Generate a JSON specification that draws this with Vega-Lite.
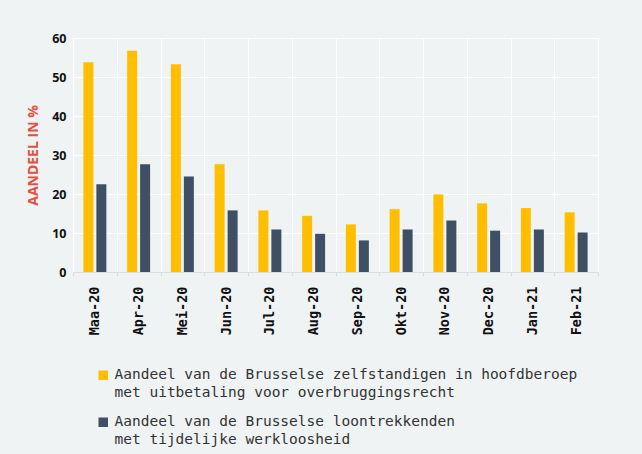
{
  "$schema": "https://vega.github.io/schema/vega-lite/v6.json",
  "width": 525,
  "height": 234,
  "autosize": {"type": "none"},
  "padding": {"left": 73, "top": 38, "right": 44, "bottom": 182},
  "background": "#eff3f4",
  "data": {
    "values": [
      {"maand": "Maa-20", "serie": "Aandeel van de Brusselse zelfstandigen in hoofdberoep\nmet uitbetaling voor overbruggingsrecht", "waarde": 53.8},
      {"maand": "Maa-20", "serie": "Aandeel van de Brusselse loontrekkenden\nmet tijdelijke werkloosheid", "waarde": 22.5},
      {"maand": "Apr-20", "serie": "Aandeel van de Brusselse zelfstandigen in hoofdberoep\nmet uitbetaling voor overbruggingsrecht", "waarde": 56.7},
      {"maand": "Apr-20", "serie": "Aandeel van de Brusselse loontrekkenden\nmet tijdelijke werkloosheid", "waarde": 27.6},
      {"maand": "Mei-20", "serie": "Aandeel van de Brusselse zelfstandigen in hoofdberoep\nmet uitbetaling voor overbruggingsrecht", "waarde": 53.3},
      {"maand": "Mei-20", "serie": "Aandeel van de Brusselse loontrekkenden\nmet tijdelijke werkloosheid", "waarde": 24.5},
      {"maand": "Jun-20", "serie": "Aandeel van de Brusselse zelfstandigen in hoofdberoep\nmet uitbetaling voor overbruggingsrecht", "waarde": 27.6},
      {"maand": "Jun-20", "serie": "Aandeel van de Brusselse loontrekkenden\nmet tijdelijke werkloosheid", "waarde": 15.8},
      {"maand": "Jul-20", "serie": "Aandeel van de Brusselse zelfstandigen in hoofdberoep\nmet uitbetaling voor overbruggingsrecht", "waarde": 15.8},
      {"maand": "Jul-20", "serie": "Aandeel van de Brusselse loontrekkenden\nmet tijdelijke werkloosheid", "waarde": 10.9},
      {"maand": "Aug-20", "serie": "Aandeel van de Brusselse zelfstandigen in hoofdberoep\nmet uitbetaling voor overbruggingsrecht", "waarde": 14.4},
      {"maand": "Aug-20", "serie": "Aandeel van de Brusselse loontrekkenden\nmet tijdelijke werkloosheid", "waarde": 9.8},
      {"maand": "Sep-20", "serie": "Aandeel van de Brusselse zelfstandigen in hoofdberoep\nmet uitbetaling voor overbruggingsrecht", "waarde": 12.2},
      {"maand": "Sep-20", "serie": "Aandeel van de Brusselse loontrekkenden\nmet tijdelijke werkloosheid", "waarde": 8.1},
      {"maand": "Okt-20", "serie": "Aandeel van de Brusselse zelfstandigen in hoofdberoep\nmet uitbetaling voor overbruggingsrecht", "waarde": 16.1},
      {"maand": "Okt-20", "serie": "Aandeel van de Brusselse loontrekkenden\nmet tijdelijke werkloosheid", "waarde": 10.9},
      {"maand": "Nov-20", "serie": "Aandeel van de Brusselse zelfstandigen in hoofdberoep\nmet uitbetaling voor overbruggingsrecht", "waarde": 19.9},
      {"maand": "Nov-20", "serie": "Aandeel van de Brusselse loontrekkenden\nmet tijdelijke werkloosheid", "waarde": 13.2},
      {"maand": "Dec-20", "serie": "Aandeel van de Brusselse zelfstandigen in hoofdberoep\nmet uitbetaling voor overbruggingsrecht", "waarde": 17.6},
      {"maand": "Dec-20", "serie": "Aandeel van de Brusselse loontrekkenden\nmet tijdelijke werkloosheid", "waarde": 10.6},
      {"maand": "Jan-21", "serie": "Aandeel van de Brusselse zelfstandigen in hoofdberoep\nmet uitbetaling voor overbruggingsrecht", "waarde": 16.4},
      {"maand": "Jan-21", "serie": "Aandeel van de Brusselse loontrekkenden\nmet tijdelijke werkloosheid", "waarde": 10.9},
      {"maand": "Feb-21", "serie": "Aandeel van de Brusselse zelfstandigen in hoofdberoep\nmet uitbetaling voor overbruggingsrecht", "waarde": 15.3},
      {"maand": "Feb-21", "serie": "Aandeel van de Brusselse loontrekkenden\nmet tijdelijke werkloosheid", "waarde": 10.1}
    ]
  },
  "mark": {"type": "bar"},
  "encoding": {
    "x": {
      "field": "maand",
      "type": "nominal",
      "sort": null,
      "scale": {"paddingInner": 0, "paddingOuter": 0},
      "axis": {
        "title": null,
        "labelAngle": -90,
        "labelFont": "DejaVu Sans Mono",
        "labelFontWeight": "bold",
        "labelFontSize": 13.5,
        "labelColor": "#111111",
        "labelPadding": 10,
        "tickBand": "extent",
        "tickColor": "#dddddd",
        "tickSize": 4,
        "domainColor": "#dddddd",
        "grid": true,
        "gridColor": "#ffffff",
        "gridWidth": 1.2
      }
    },
    "xOffset": {
      "field": "serie",
      "type": "nominal",
      "sort": null,
      "scale": {"paddingInner": 0.23, "paddingOuter": 0.8}
    },
    "y": {
      "field": "waarde",
      "type": "quantitative",
      "scale": {"domain": [0, 60], "nice": false},
      "axis": {
        "title": "AANDEEL IN %",
        "titleColor": "#e2513f",
        "titleFont": "Open Sans",
        "titleFontWeight": "bold",
        "titleFontSize": 14,
        "titlePadding": 11,
        "values": [0, 10, 20, 30, 40, 50, 60],
        "labelFont": "Open Sans",
        "labelFontWeight": "bold",
        "labelFontSize": 12.5,
        "labelColor": "#111111",
        "labelPadding": 7,
        "ticks": false,
        "domain": false,
        "grid": true,
        "gridColor": "#ffffff",
        "gridWidth": 1.2
      }
    },
    "color": {
      "field": "serie",
      "type": "nominal",
      "sort": null,
      "scale": {"range": ["#ffbf00", "#3f4f64"]},
      "legend": {
        "title": null,
        "orient": "none",
        "legendX": 23,
        "legendY": 330,
        "symbolType": "square",
        "symbolSize": 90,
        "symbolStrokeWidth": 0,
        "symbolOpacity": 1,
        "labelFont": "DejaVu Sans Mono",
        "labelFontSize": 14.5,
        "labelColor": "#333333",
        "labelLimit": 600,
        "labelExpr": "split(datum.label, '\\n')",
        "rowPadding": 14,
        "direction": "vertical",
        "encode": {"labels": {"update": {"lineHeight": {"value": 18}}}}
      }
    }
  },
  "config": {
    "view": {"stroke": null},
    "axis": {"gridOpacity": 1}
  }
}
